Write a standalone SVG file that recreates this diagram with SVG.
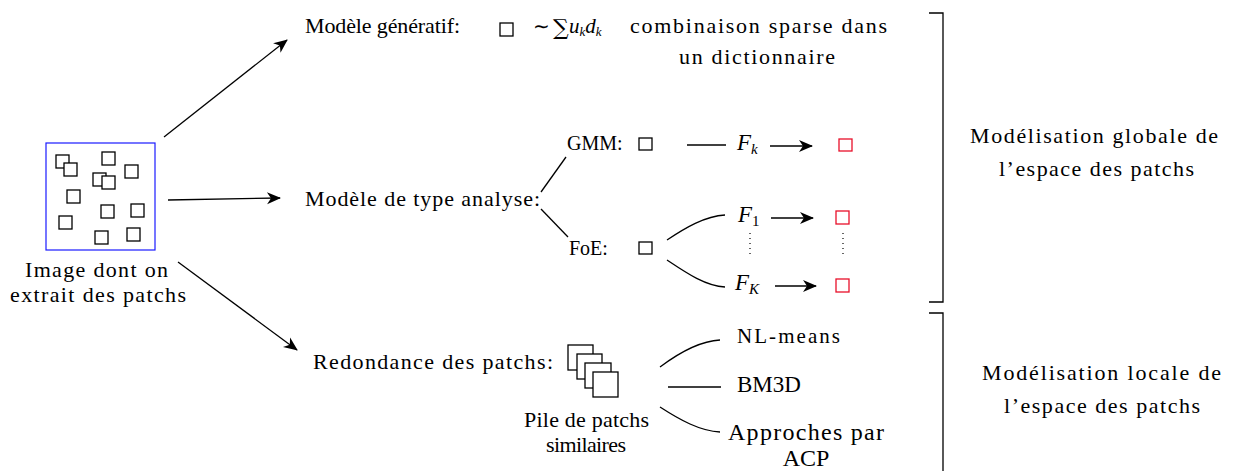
<svg xmlns="http://www.w3.org/2000/svg" width="1234" height="471" viewBox="0 0 1234 471">
<defs>
<marker id="ah" markerUnits="userSpaceOnUse" viewBox="-14 -7 16 14" refX="0" refY="0" markerWidth="16" markerHeight="14" orient="auto">
<path d="M1,0 L-13,-6 L-9,0 L-13,6 Z" fill="#000"/>
</marker>
</defs>
<g id="image">
<rect x="46" y="143" width="109" height="107" fill="none" stroke="#1a1aff" stroke-width="1.2"/>
<g fill="#fff" stroke="#000" stroke-width="1.3">
<rect x="56" y="155" width="13" height="13"/>
<rect x="64" y="163" width="13" height="13"/>
<rect x="102" y="152" width="13" height="13"/>
<rect x="125" y="165" width="13" height="13"/>
<rect x="93" y="173" width="13" height="13"/>
<rect x="102" y="176" width="13" height="13"/>
<rect x="67" y="190" width="13" height="13"/>
<rect x="101" y="205" width="13" height="13"/>
<rect x="131" y="204" width="13" height="13"/>
<rect x="59" y="216" width="13" height="13"/>
<rect x="95" y="231" width="13" height="13"/>
<rect x="127" y="228" width="13" height="13"/>
</g>
<text font-family="Liberation Serif" font-size="22" x="25" y="277" textLength="143">Image dont on</text>
<text font-family="Liberation Serif" font-size="22" x="10" y="302" textLength="176">extrait des patchs</text>
</g>
<g id="generatif">
<text font-family="Liberation Serif" font-size="22" x="305" y="33" textLength="155">Modèle génératif:</text>
<rect x="500" y="23" width="13" height="13" fill="none" stroke="#000" stroke-width="1.3"/>
<text font-family="Liberation Serif" x="533" y="33" font-size="20">∼</text>
<text font-family="DejaVu Serif" x="553" y="35" font-size="22">∑</text>
<text font-family="Liberation Serif" font-style="italic" font-size="21" x="569" y="33">u<tspan font-size="13" dy="3">k</tspan><tspan dy="-3">d</tspan><tspan font-size="13" dy="3">k</tspan></text>
<text font-family="Liberation Serif" font-size="22" x="630" y="33" textLength="257">combinaison sparse dans</text>
<text font-family="Liberation Serif" font-size="22" x="679" y="64" textLength="156">un dictionnaire</text>
</g>
<g id="analyse">
<text font-family="Liberation Serif" font-size="22" x="305" y="206" textLength="235">Modèle de type analyse:</text>
</g>
<g id="gmm">
<text font-family="Liberation Serif" x="567" y="150" font-size="20">GMM:</text>
<rect x="639" y="138" width="13" height="12" fill="none" stroke="#000" stroke-width="1.3"/>
<text font-family="Liberation Serif" font-style="italic" x="737" y="150" font-size="23">F<tspan font-size="15" dy="4">k</tspan></text>
<rect x="839" y="139" width="13" height="12" fill="none" stroke="#e8102a" stroke-width="1.3"/>
</g>
<g id="foe">
<text font-family="Liberation Serif" x="569" y="255" font-size="20">FoE:</text>
<rect x="639" y="242" width="13" height="12" fill="none" stroke="#000" stroke-width="1.3"/>
<text font-family="Liberation Serif" font-style="italic" x="738" y="222" font-size="23">F<tspan font-size="15" dy="4" font-style="normal">1</tspan></text>
<text font-family="Liberation Serif" font-style="italic" x="735" y="290" font-size="23">F<tspan font-size="15" dy="4">K</tspan></text>
<rect x="836" y="211" width="13" height="13" fill="none" stroke="#e8102a" stroke-width="1.3"/>
<rect x="836" y="279" width="13" height="13" fill="none" stroke="#e8102a" stroke-width="1.3"/>
</g>
<g id="redondance">
<text font-family="Liberation Serif" font-size="22" x="313" y="369" textLength="240">Redondance des patchs:</text>
<g fill="#fff" stroke="#000" stroke-width="1.3">
<rect x="568" y="345" width="25" height="25"/>
<rect x="577" y="354" width="25" height="25"/>
<rect x="585" y="363" width="26" height="25"/>
<rect x="593" y="372" width="25" height="25"/>
</g>
<text font-family="Liberation Serif" font-size="22" x="524" y="427" textLength="125">Pile de patchs</text>
<text font-family="Liberation Serif" font-size="22" x="546" y="452" textLength="80">similaires</text>
</g>
<g id="methods">
<text font-family="Liberation Serif" x="737" y="343" font-size="21" textLength="103">NL-means</text>
<text font-family="Liberation Serif" x="737" y="392" font-size="23">BM3D</text>
<text font-family="Liberation Serif" x="728" y="440" font-size="24" textLength="156">Approches par</text>
<text font-family="Liberation Serif" x="806" y="466" font-size="24" text-anchor="middle">ACP</text>
</g>
<g id="brackets">
<path d="M929,13 H943 V302 H929" fill="none" stroke="#000" stroke-width="1.3"/>
<path d="M929,313 H943 V471" fill="none" stroke="#000" stroke-width="1.3"/>
<text font-family="Liberation Serif" font-size="22" x="970" y="143" textLength="248">Modélisation globale de</text>
<text font-family="Liberation Serif" font-size="22" x="999" y="176" textLength="195">l’espace des patchs</text>
<text font-family="Liberation Serif" font-size="22" x="982" y="380" textLength="239">Modélisation locale de</text>
<text font-family="Liberation Serif" font-size="22" x="1004" y="413" textLength="196">l’espace des patchs</text>
</g>
<g id="connectors" fill="none" stroke="#000" stroke-width="1.3">
<path d="M164,137 L287,40" marker-end="url(#ah)"/>
<path d="M168,200 L280,198" marker-end="url(#ah)"/>
<path d="M178,262 L297,350" marker-end="url(#ah)"/>
<path d="M541,192 L566,157"/>
<path d="M541,209 L568,237"/>
<path d="M687,145 L726,145"/>
<path d="M770,146 L812,146" marker-end="url(#ah)"/>
<path d="M667,240 C685,228 705,216 725,215"/>
<path d="M667,260 C685,272 705,286 725,287"/>
<path d="M771,218 L813,218" marker-end="url(#ah)"/>
<path d="M775,286 L816,286" marker-end="url(#ah)"/>
<path d="M750,233 V256" stroke-width="1.2" stroke-dasharray="1 4"/>
<path d="M843,233 V258" stroke-width="1.2" stroke-dasharray="1 4"/>
<path d="M660,367 C680,352 700,341 720,340"/>
<path d="M668,387 L721,387"/>
<path d="M660,407 C680,420 700,431 720,432"/>
</g>
</svg>
